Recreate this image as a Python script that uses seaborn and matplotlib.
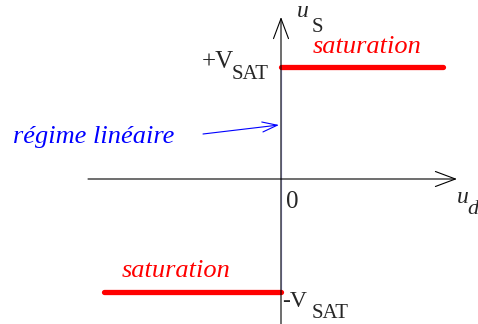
import numpy as np
import pandas as pd
import matplotlib
matplotlib.use('Agg')
import matplotlib.pyplot as plt
import seaborn as sns

# transfer characteristic of an ideal comparator (values in units of V_SAT)
v_sat = 1.0
ud_neg_sat = [-1.57, 0.0]
us_neg_sat = [-v_sat, -v_sat]
ud_linear = [0.0, 0.0]
us_linear = [-v_sat, v_sat]
ud_pos_sat = [0.0, 1.44]
us_pos_sat = [v_sat, v_sat]

sns.set_theme(style='white')
plt.rcParams['font.family'] = ['Liberation Serif', 'DejaVu Serif']

S = 112.5  # pixels per unit
ox, oy = 281, 179


def P(x, y):
    # pixel position -> data coords (for labels only)
    return ((x - ox) / S, (oy - y) / S)


fig = plt.figure(figsize=(4.78, 3.24), dpi=100)
ax = fig.add_axes([0, 0, 1, 1])
ax.set_xlim(-ox / S, (478 - ox) / S)
ax.set_ylim(-(324 - oy) / S, oy / S)
ax.axis('off')

# axes with arrows
ax.annotate('', xy=P(457, 179), xytext=P(88, 179),
            arrowprops=dict(arrowstyle='->,head_length=1.2,head_width=0.45', lw=0.8, color='black',
                            shrinkA=0, shrinkB=0))
ax.annotate('', xy=P(281, 17), xytext=P(281, 330),
            arrowprops=dict(arrowstyle='->,head_length=1.2,head_width=0.45', lw=0.8, color='black',
                            shrinkA=0, shrinkB=0))

df_lin = pd.DataFrame({'ud': ud_linear, 'us': us_linear})
df_neg = pd.DataFrame({'ud': ud_neg_sat, 'us': us_neg_sat})
df_pos = pd.DataFrame({'ud': ud_pos_sat, 'us': us_pos_sat})
sns.lineplot(data=df_neg, x='ud', y='us', sort=False, color='red', lw=3.8,
             solid_capstyle='round', ax=ax)
sns.lineplot(data=df_pos, x='ud', y='us', sort=False, color='red', lw=3.8,
             solid_capstyle='round', ax=ax)
sns.lineplot(data=df_lin, x='ud', y='us', sort=False, color='blue', lw=3.8,
             solid_capstyle='butt', ax=ax)

fs_it = 19
# axis labels
ax.text(*P(297, 17), 'u', style='italic', fontsize=17, ha='left', va='baseline')
ax.text(*P(312, 32), 'S', fontsize=15, ha='left', va='baseline')
ax.text(*P(457, 203), 'u', style='italic', fontsize=17, ha='left', va='baseline')
ax.text(*P(467, 214), 'd', style='italic', fontsize=16, ha='left', va='baseline')
ax.text(*P(286, 208), '0', fontsize=18, ha='left', va='baseline')

# saturation levels
ax.text(*P(202, 68), '+V', fontsize=18, ha='left', va='baseline')
ax.text(*P(232, 79), 'SAT', fontsize=15, ha='left', va='baseline')
ax.text(*P(282, 307), '-V', fontsize=17, ha='left', va='baseline')
ax.text(*P(312, 318), 'SAT', fontsize=15, ha='left', va='baseline')

# annotations
ax.text(*P(313, 53), 'saturation', style='italic', color='red', fontsize=fs_it, ha='left', va='baseline')
ax.text(*P(122, 277), 'saturation', style='italic', color='red', fontsize=fs_it, ha='left', va='baseline')
ax.text(*P(13, 143), 'régime linéaire', style='italic', color='blue', fontsize=fs_it, ha='left', va='baseline')
ax.annotate('', xy=P(279, 125), xytext=P(203, 134),
            arrowprops=dict(arrowstyle='->,head_length=0.9,head_width=0.3', lw=0.8, color='blue',
                            shrinkA=0, shrinkB=0))

fig.savefig('out.png', dpi=100)
